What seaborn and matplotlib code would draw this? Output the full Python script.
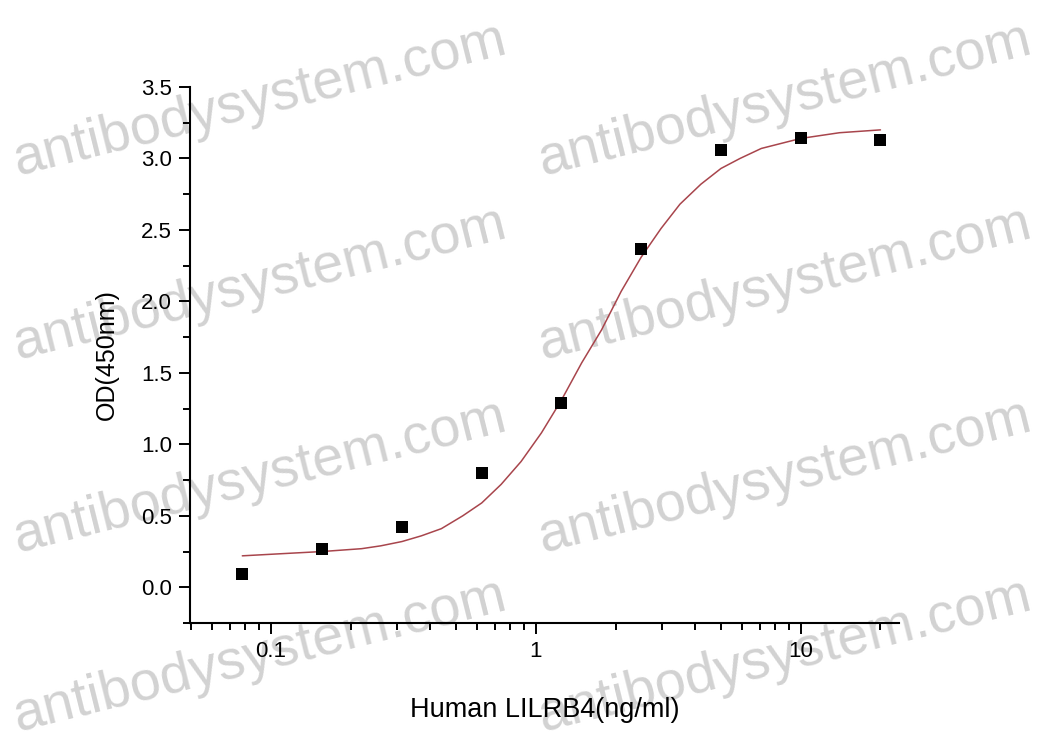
import numpy as np
import pandas as pd
import matplotlib
matplotlib.use("Agg")
import matplotlib.pyplot as plt
import matplotlib.ticker as mticker
import seaborn as sns

# measured points (ng/ml vs OD450)
conc = [0.078, 0.156, 0.3125, 0.625, 1.25, 2.5, 5, 10, 20]
od = [0.09, 0.27, 0.42, 0.80, 1.29, 2.37, 3.06, 3.14, 3.13]

# fitted curve
curve_conc = [0.078, 0.11, 0.156, 0.22, 0.26, 0.3125, 0.37, 0.44, 0.53,
              0.625, 0.74, 0.88, 1.05, 1.25, 1.49, 1.77, 2.1, 2.5, 2.97,
              3.5, 4.2, 5, 5.9, 7.1, 10, 14, 20]
curve_od = [0.22, 0.235, 0.25, 0.27, 0.29, 0.32, 0.36, 0.41, 0.50,
            0.59, 0.72, 0.88, 1.08, 1.31, 1.57, 1.80, 2.07, 2.31, 2.51,
            2.68, 2.82, 2.93, 3.00, 3.07, 3.14, 3.18, 3.20]

y_ticks = [0.0, 0.5, 1.0, 1.5, 2.0, 2.5, 3.0, 3.5]
x_ticks = [0.1, 1, 10]
x_ticklabels = ["0.1", "1", "10"]

watermark = "antibodysystem.com"
wm_x = [0.249, 0.751]
wm_y = [0.866, 0.619, 0.361, 0.122]

sns.set_style("ticks", {"axes.edgecolor": "black", "xtick.color": "black",
                        "ytick.color": "black", "text.color": "black",
                        "axes.labelcolor": "black"})
plt.rcParams["font.family"] = ["Liberation Sans", "DejaVu Sans"]

fig = plt.figure(figsize=(10.45, 7.48), dpi=100)
ax = fig.add_axes([0.1818, 0.1671, 0.6785, 0.7166])
ax.set_facecolor("none")

pts = pd.DataFrame({"conc": conc, "od": od})
fit = pd.DataFrame({"conc": curve_conc, "od": curve_od})

sns.lineplot(data=fit, x="conc", y="od", ax=ax, color="#a8454c", lw=1.1,
             estimator=None, sort=True)
sns.scatterplot(data=pts, x="conc", y="od", ax=ax, marker="s", s=75,
                color="black", edgecolor="black", linewidth=0, zorder=3)

ax.set_xscale("log")
ax.set_xlim(0.0495, 23.5)
ax.set_ylim(-0.25, 3.5)
ax.set_xticks(x_ticks)
ax.set_xticklabels(x_ticklabels)
ax.xaxis.set_minor_locator(mticker.LogLocator(base=10, subs=np.arange(2, 10)))
ax.xaxis.set_minor_formatter(mticker.NullFormatter())
ax.set_yticks(y_ticks)
ax.yaxis.set_major_formatter(mticker.FormatStrFormatter("%.1f"))
ax.yaxis.set_minor_locator(mticker.MultipleLocator(0.25))

sns.despine(ax=ax)
for s in ["left", "bottom"]:
    ax.spines[s].set_linewidth(1.5)
ax.tick_params(which="major", length=8, width=1.4, labelsize=16, pad=5)
ax.tick_params(which="minor", length=5, width=1.4)

ax.set_xlabel("Human LILRB4(ng/ml)", fontsize=19.5, labelpad=25)
ax.set_ylabel("OD(450nm)", fontsize=18, labelpad=16)

for yy in wm_y:
    for xx in wm_x:
        fig.text(xx, yy, watermark, fontsize=40, color="#d2d2d2", rotation=14,
                 ha="center", va="center", rotation_mode="anchor", zorder=-1)

fig.savefig("out.png", dpi=100)
